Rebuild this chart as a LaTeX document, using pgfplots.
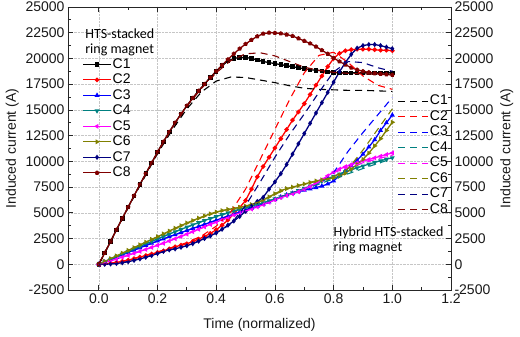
\documentclass[border=0pt]{standalone}
\usepackage{pgfplots}
\pgfplotsset{compat=1.18}
\usepackage{pgfplotstable}
\usepackage{fontspec}
\setmainfont{Liberation Sans}
\newfontfamily\calib{Carlito}

\definecolor{cOne}{HTML}{000000}
\definecolor{cTwo}{HTML}{FF0000}
\definecolor{cThree}{HTML}{0000FF}
\definecolor{cFour}{HTML}{008080}
\definecolor{cFive}{HTML}{FF00FF}
\definecolor{cSix}{HTML}{808000}
\definecolor{cSeven}{HTML}{000080}
\definecolor{cEight}{HTML}{800000}

% HTS-stacked ring magnet: induced current per coil (A)
\pgfplotstableread{
t    C1    C2    C3    C4    C5    C6    C7    C8
0.00 0     0     0     0     0     0     0     0
0.02 1100  50    230   240   170   270   0     1100
0.04 2200  100   460   480   340   540   30    2200
0.06 3350  180   690   730   510   810   80    3350
0.08 4450  280   920   980   690   1080  150   4450
0.10 5550  400   1150  1230  870   1350  250   5550
0.12 6650  550   1380  1480  1060  1620  380   6650
0.14 7750  700   1600  1730  1250  1890  520   7750
0.16 8800  850   1820  1980  1440  2150  680   8800
0.18 9850  1000  2040  2220  1640  2420  850   9850
0.20 10900 1150  2260  2460  1840  2680  1050  10900
0.22 11900 1300  2470  2700  2040  2950  1250  11900
0.24 12850 1500  2680  2930  2260  3230  1400  12850
0.26 13750 1700  2880  3160  2480  3500  1500  13750
0.28 14600 1850  3080  3390  2700  3760  1650  14600
0.30 15400 2000  3280  3610  2930  4010  1800  15400
0.32 16150 2200  3480  3830  3160  4250  2000  16150
0.34 16850 2450  3680  4040  3400  4480  2250  16850
0.36 17500 2700  3880  4250  3640  4700  2500  17500
0.38 18150 3000  4080  4450  3880  4900  2750  18150
0.40 18750 3350  4280  4640  4100  5080  3050  18750
0.42 19300 3800  4480  4820  4330  5220  3400  19350
0.44 19750 4300  4680  5000  4560  5330  3800  19900
0.46 20000 4900  4880  5170  4800  5420  4200  20450
0.48 20100 5500  5080  5330  5000  5520  4650  20950
0.50 20100 6200  5270  5490  5180  5650  5150  21400
0.52 20000 7300  5460  5650  5370  5800  5650  21800
0.54 19850 8500  5650  5810  5570  6000  6100  22150
0.56 19700 9500  5850  5980  5790  6250  6500  22400
0.58 19600 10400 6050  6160  6020  6550  7300  22500
0.60 19500 11300 6300  6350  6250  6850  8000  22480
0.62 19400 12200 6550  6550  6480  7150  8800  22420
0.64 19300 13100 6750  6750  6680  7350  9700  22320
0.66 19200 14000 6900  6950  6850  7500  10700 22180
0.68 19100 14800 7050  7150  7050  7650  11700 21950
0.70 19000 15600 7200  7370  7280  7800  12700 21700
0.72 18900 16500 7330  7600  7550  7950  13700 21450
0.74 18850 17400 7450  7840  7850  8100  14700 21150
0.76 18800 18300 7600  8080  8200  8200  15700 20800
0.78 18700 19200 7800  8320  8600  8300  16700 20450
0.80 18650 20000 8100  8550  8950  8400  17700 20050
0.82 18600 20500 8600  8770  9250  8550  18700 19700
0.84 18600 20750 9100  8980  9480  8850  19600 19400
0.86 18600 20850 9600  9180  9680  9250  20400 19100
0.88 18600 20900 10100 9370  9860  9700  21000 18900
0.90 18600 20900 10700 9550  10020 10200 21250 18750
0.92 18600 20900 11400 9730  10180 10800 21350 18650
0.94 18600 20850 12100 9900  10340 11500 21350 18550
0.96 18600 20800 13000 10060 10500 12200 21250 18500
0.98 18600 20800 13750 10210 10660 13000 21100 18450
1.00 18600 20750 14500 10350 10820 13800 20950 18400
}\solidtab

% Hybrid HTS-stacked ring magnet: induced current per coil (A)
\pgfplotstableread{
t    D1    D2    D3    D4    D5    D6    D7    D8
0.00 0     0     0     0     0     0     0     0
0.05 2750  150   580   600   420   670   60    2780
0.10 5500  420   1150  1200  870   1330  260   5550
0.15 8150  800   1720  1850  1350  2000  600   8250
0.20 10750 1200  2260  2450  1850  2650  1050  10850
0.25 13050 1650  2780  3050  2370  3330  1450  13250
0.30 15100 2100  3280  3600  2920  3980  1800  15350
0.35 16750 2750  3780  4150  3500  4550  2350  17100
0.40 17800 3700  4280  4630  4100  5050  3050  18600
0.45 18200 5100  4780  5080  4680  5380  3900  19800
0.50 18150 7300  5270  5480  5180  5650  5700  20450
0.55 17900 10200 5750  5880  5680  6100  8000  20550
0.60 17650 13100 6300  6330  6250  6800  10400 20250
0.65 17350 16000 6850  6830  6770  7400  12600 19700
0.70 17100 18600 7300  7300  7280  7800  14600 19150
0.75 17000 20300 7800  7800  8000  8100  16700 18850
0.80 16950 20600 8900  8300  8900  8500  18700 18650
0.85 16900 19600 11000 8800  9400  9300  19700 18550
0.90 16900 18300 12800 9300  9850  11100 19600 18500
0.95 16850 17400 14500 9800  10250 13100 19100 18450
1.00 16800 17000 16200 10250 10600 15100 18750 18400
}\hybridtab

\newcommand{\chartfont}{\fontsize{14}{16}\selectfont}

\pgfplotsset{
  frame/.style={
    scale only axis, width=383pt, height=283pt,
    xmin=-0.105, xmax=1.2, ymin=-2500, ymax=25000,
    xtick={0,0.2,0.4,0.6,0.8,1.0,1.2},
    ytick={-2500,0,2500,5000,7500,10000,12500,15000,17500,20000,22500,25000},
    scaled y ticks=false, scaled x ticks=false,
    minor x tick num=1, minor y tick num=1,
    tick align=inside, major tick length=5pt, minor tick length=3pt,
    axis line style={line width=0.8pt, black!85},
    every tick/.style={line width=0.8pt, black!85},
    /pgf/number format/assume math mode=true,
    /pgf/number format/1000 sep={},
    tick label style={font=\chartfont, black!90},
    xticklabel style={/pgf/number format/.cd, fixed, fixed zerofill, precision=1},
    label style={font=\chartfont, black!90},
    ylabel={Induced current (A)},
    legend cell align=left,
  },
  solidline/.style={line width=1.3pt, mark size=1.6pt, mark options={solid}},
  dashline/.style={line width=1.1pt, dash pattern=on 7pt off 5pt},
}

\begin{document}
\begin{tikzpicture}
\path[use as bounding box] (-68pt,-47pt) rectangle (452pt,290pt);

% solid curves, left scale
\begin{axis}[frame,
  xlabel={Time (normalized)},
  xlabel style={yshift=-8pt},
  grid=major, major grid style={densely dotted, gray!45, line width=0.6pt},
  yticklabel pos=left, ytick pos=both,
  legend image code/.code={\draw[mark repeat=2,mark phase=2,#1] plot coordinates {(0pt,0pt) (14pt,0pt) (28pt,0pt)};},
  legend style={at={(rel axis cs:0.037,0.822)}, anchor=north west, draw=none, fill=none,
    inner sep=0pt, row sep=2pt, font=\chartfont,
    nodes={inner sep=1pt, text height=9.5pt, text depth=2pt, anchor=west}},
]
\addplot[solidline, color=cOne, mark=square*] table[x=t, y=C1] {\solidtab};
\addlegendentry{C1}
\addplot[solidline, color=cTwo, mark=*] table[x=t, y=C2] {\solidtab};
\addlegendentry{C2}
\addplot[solidline, color=cThree, mark=triangle*] table[x=t, y=C3] {\solidtab};
\addlegendentry{C3}
\addplot[solidline, color=cFour, mark=triangle*, mark options={rotate=180}] table[x=t, y=C4] {\solidtab};
\addlegendentry{C4}
\addplot[solidline, color=cFive, mark=triangle*, mark options={rotate=90}] table[x=t, y=C5] {\solidtab};
\addlegendentry{C5}
\addplot[solidline, color=cSix, mark=triangle*, mark options={rotate=-90}] table[x=t, y=C6] {\solidtab};
\addlegendentry{C6}
\addplot[solidline, color=cSeven, mark=diamond*] table[x=t, y=C7] {\solidtab};
\addlegendentry{C7}
\addplot[solidline, color=cEight, mark=pentagon*] table[x=t, y=C8] {\solidtab};
\addlegendentry{C8}
\node[font=\calib\chartfont, anchor=base west] at (axis cs:-0.058,21900) {HTS-stacked};
\node[font=\calib\chartfont, anchor=base west] at (axis cs:-0.058,20450) {ring magnet};
\end{axis}

% dashed curves, right scale
\begin{axis}[frame,
  xticklabels={},
  yticklabel pos=right, ytick pos=both,
  legend image code/.code={\draw[#1] (0pt,0pt) -- (30pt,0pt);},
  legend style={at={(rel axis cs:0.995,0.692)}, anchor=north east, draw=none, fill=none,
    inner sep=0pt, row sep=2pt, font=\chartfont,
    nodes={inner sep=1pt, text height=9.5pt, text depth=2pt, anchor=west}},
]
\addplot[dashline, color=cOne] table[x=t, y=D1] {\hybridtab};
\addlegendentry{C1}
\addplot[dashline, color=cTwo] table[x=t, y=D2] {\hybridtab};
\addlegendentry{C2}
\addplot[dashline, color=cThree] table[x=t, y=D3] {\hybridtab};
\addlegendentry{C3}
\addplot[dashline, color=cFour] table[x=t, y=D4] {\hybridtab};
\addlegendentry{C4}
\addplot[dashline, color=cFive] table[x=t, y=D5] {\hybridtab};
\addlegendentry{C5}
\addplot[dashline, color=cSix] table[x=t, y=D6] {\hybridtab};
\addlegendentry{C6}
\addplot[dashline, color=cSeven] table[x=t, y=D7] {\hybridtab};
\addlegendentry{C7}
\addplot[dashline, color=cEight] table[x=t, y=D8] {\hybridtab};
\addlegendentry{C8}
\node[font=\calib\chartfont, anchor=base west] at (axis cs:0.788,2710) {Hybrid HTS-stacked};
\node[font=\calib\chartfont, anchor=base west] at (axis cs:0.788,1260) {ring magnet};
\end{axis}
\end{tikzpicture}
\end{document}
